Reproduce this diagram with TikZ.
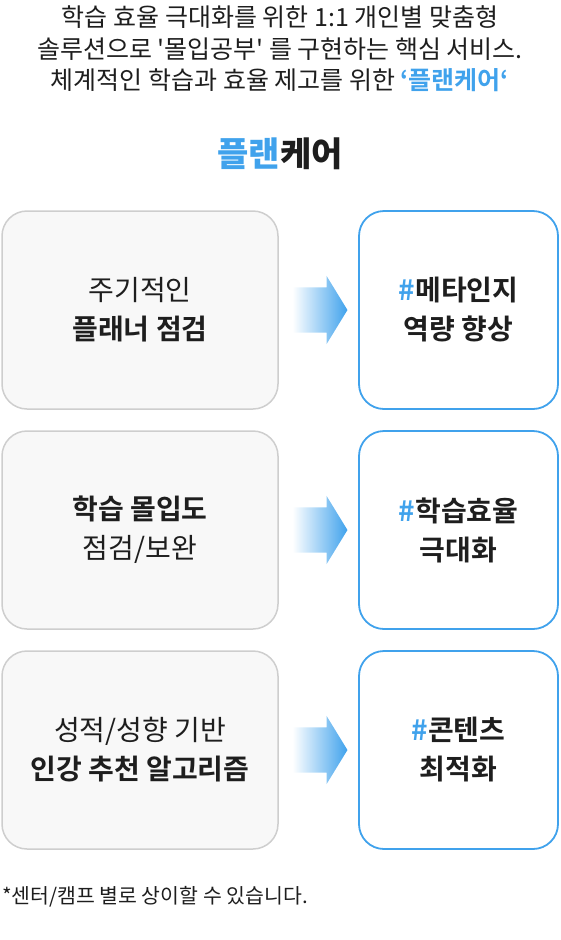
\documentclass[tikz,border=0pt]{standalone}
\usepackage{fontspec}
\setmainfont{Noto Sans CJK KR}[BoldFont={Noto Sans CJK KR Bold}]
\newfontfamily\heavyfont{Noto Sans CJK KR Black}
\usetikzlibrary{shapes.arrows,calc}

\definecolor{careblue}{RGB}{64,162,236}
\definecolor{inkgray}{RGB}{30,30,30}
\definecolor{cardgray}{RGB}{248,248,248}
\definecolor{edgegray}{RGB}{206,206,206}

\begin{document}
\begin{tikzpicture}[
    x=1pt, y=-1pt,
    every node/.style={inner sep=0pt, outer sep=0pt, text=inkgray},
    cardtext/.style={align=center, font=\fontsize{28}{39}\selectfont},
    checkcard/.style={cardtext, draw=edgegray, fill=cardgray, line width=1.5pt,
                      rounded corners=25pt, minimum width=276pt, minimum height=198pt},
    goalcard/.style={cardtext, font=\fontsize{28}{39}\selectfont\bfseries,
                     draw=careblue, fill=white, line width=1.8pt,
                     rounded corners=25pt, minimum width=199pt, minimum height=198pt},
    flowarrow/.style={single arrow, inner xsep=0pt, inner ysep=22.5pt,
                      minimum height=55pt, minimum width=68pt,
                      single arrow head extend=11.5pt, single arrow tip angle=117,
                      left color=white, right color=careblue, draw=none},
]
\useasboundingbox (0,0) rectangle (560,940);

% intro
\node (intro) [align=center, font=\fontsize{25}{31.5}\selectfont] at (280,49)
  {학습 효율 극대화를 위한 1:1 개인별 맞춤형\\
   솔루션으로 \textquotesingle 몰입공부\textquotesingle{} 를 구현하는 핵심 서비스.\\
   체계적인 학습과 효율 제고를 위한 {\bfseries\color{careblue}‘플랜케어‘}};
\node (brand) [font=\fontsize{34}{34}\heavyfont] at (280,154)
  {{\color{careblue}플랜}케어};

% checks (left)
\node (check1) [checkcard] at (140,310) {주기적인\\\textbf{플래너 점검}};
\node (check2) [checkcard] at (140,530) {\textbf{학습 몰입도}\\점검/보완};
\node (check3) [checkcard] at (140,750) {성적/성향 기반\\\textbf{인강 추천 알고리즘}};

% goals (right)
\node (goal1) [goalcard] at (458.5,310) {{\color{careblue}\#}메타인지\\역량 향상};
\node (goal2) [goalcard] at (458.5,530) {{\color{careblue}\#}학습효율\\극대화};
\node (goal3) [goalcard] at (458.5,750) {{\color{careblue}\#}콘텐츠\\최적화};

% arrows
\foreach \i in {1,2,3}
  \node (flow\i) [flowarrow] at ($(check\i.east)!0.5!(goal\i.west)+(-5.5,0)$) {};

\node (note) [anchor=west, font=\fontsize{20.5}{20.5}\selectfont] at (2,897)
  {*센터/캠프 별로 상이할 수 있습니다.};
\end{tikzpicture}
\end{document}
